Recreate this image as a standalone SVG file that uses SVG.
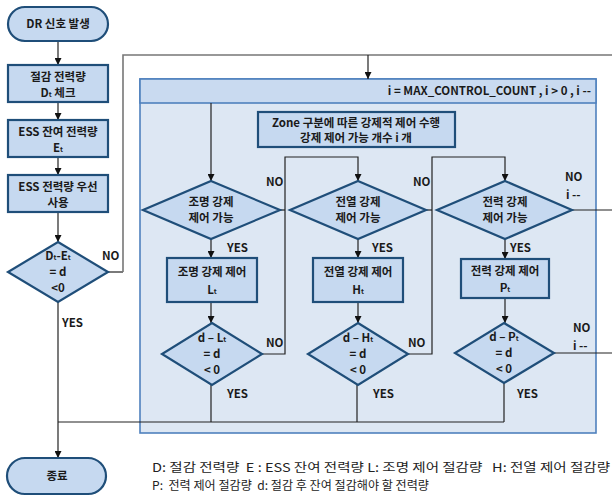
<svg xmlns="http://www.w3.org/2000/svg" width="612" height="497" viewBox="0 0 612 497">
<defs>
<marker id="ah" viewBox="0 0 10 10" refX="10" refY="5" markerWidth="7" markerHeight="7" markerUnits="userSpaceOnUse" orient="auto">
<path d="M0,0 L10,5 L0,10 z" fill="#111"/>
</marker>
<style>
.n{fill:#c6d9f0;stroke:#1f4e79;stroke-width:2.2}
.t{font-family:"Noto Sans CJK KR","Noto Sans",sans-serif;font-weight:bold;font-size:11.5px;fill:#1a1a1a;text-anchor:middle}
.l{font-family:"Noto Sans CJK KR","Noto Sans",sans-serif;font-weight:bold;font-size:11.5px;fill:#1a1a1a}
.c{fill:none;stroke:#222;stroke-width:1.2}
.g{fill:none;stroke:#777;stroke-width:1.6}
.s{font-size:7px}
.lg{font-family:"Noto Sans CJK KR","Noto Sans",sans-serif;font-size:12px;fill:#222;white-space:pre}
</style>
</defs>
<rect width="612" height="497" fill="#ffffff"/>

<g id="panel">
<rect x="140" y="79" width="456" height="354" fill="#dde7f3" stroke="#4f81bd" stroke-width="1.6"/>
<rect x="140" y="79" width="456" height="24" fill="#c9daf0" stroke="#4f81bd" stroke-width="1.6"/>
<text class="l" x="591" y="95" text-anchor="end" font-size="9.5">i = MAX_CONTROL_COUNT , i &gt; 0 , i --</text>
</g>

<g id="connectors">
<path class="c" d="M58,41 V65" marker-end="url(#ah)"/>
<path class="c" d="M58,102 V120" marker-end="url(#ah)"/>
<path class="c" d="M58,157 V175" marker-end="url(#ah)"/>
<path class="c" d="M58,212 V242" marker-end="url(#ah)"/>
<path class="c" d="M108,272 H123"/>
<path class="g" d="M123,272 V55 H612"/>
<path class="c" d="M368,55 V79" marker-end="url(#ah)"/>
<path class="c" d="M58,302 V458" marker-end="url(#ah)"/>
<path class="c" d="M58,422 H504"/>
<path class="c" d="M211,103 V181" marker-end="url(#ah)"/>
<path class="c" d="M211,239 V258" marker-end="url(#ah)"/>
<path class="c" d="M211,302 V323" marker-end="url(#ah)"/>
<path class="c" d="M211,385 V422"/>
<path class="c" d="M280,210 H285"/>
<path class="c" d="M262,354 H285 V157 H358 V181" marker-end="url(#ah)"/>
<path class="c" d="M358,239 V258" marker-end="url(#ah)"/>
<path class="c" d="M358,302 V323" marker-end="url(#ah)"/>
<path class="c" d="M357,385 V422"/>
<path class="c" d="M426,210 H432"/>
<path class="c" d="M408,354 H432 V157 H505 V181" marker-end="url(#ah)"/>
<path class="c" d="M505,239 V259" marker-end="url(#ah)"/>
<path class="c" d="M505,298 V323" marker-end="url(#ah)"/>
<path class="c" d="M504,383 V422"/>
<path class="c" d="M572,210 H612"/>
<path class="c" d="M554,353 H612"/>
</g>

<g id="start">
<rect class="n" x="8" y="7" width="100" height="34" rx="17"/>
<text class="t" x="58" y="28">DR 신호 발생</text>
</g>
<g id="check_D">
<rect class="n" x="8" y="65" width="100" height="37"/>
<text class="t" x="58" y="81">절감 전력량</text>
<text class="t" x="58" y="97">D<tspan class="s">t</tspan> 체크</text>
</g>
<g id="ess_E">
<rect class="n" x="8" y="120" width="100" height="37"/>
<text class="t" x="58" y="136">ESS 잔여 전력량</text>
<text class="t" x="58" y="152">E<tspan class="s">t</tspan></text>
</g>
<g id="ess_use">
<rect class="n" x="8" y="175" width="100" height="37"/>
<text class="t" x="58" y="191">ESS 전력량 우선</text>
<text class="t" x="58" y="207">사용</text>
</g>
<g id="dec_DE">
<polygon class="n" points="58,242 108,272 58,302 8,272"/>
<text class="t" x="58" y="260" font-size="10.5">D<tspan class="s">t</tspan>-E<tspan class="s">t</tspan></text>
<text class="t" x="58" y="276" font-size="10.5">= d</text>
<text class="t" x="58" y="292" font-size="10.5">&lt;0</text>
</g>
<text class="l" x="102" y="260">NO</text>
<text class="l" x="62" y="327">YES</text>

<g id="zone">
<rect class="n" x="258" y="112" width="197" height="35" stroke-width="1.8"/>
<text class="t" x="356" y="127">Zone 구분에 따른 강제적 제어 수행</text>
<text class="t" x="356" y="142">강제 제어 가능 개수 i 개</text>
</g>

<g id="dec_L">
<polygon class="n" points="211,181 280,210 211,239 143,210"/>
<text class="t" x="211" y="206">조명 강제</text>
<text class="t" x="211" y="222">제어 가능</text>
</g>
<g id="ctl_L">
<rect class="n" x="167" y="258" width="90" height="44"/>
<text class="t" x="212" y="276">조명 강제 제어</text>
<text class="t" x="212" y="294">L<tspan class="s">t</tspan></text>
</g>
<g id="dec_dL">
<polygon class="n" points="212,323 262,354 212,385 162,354"/>
<text class="t" x="212" y="342" font-size="10.5">d – L<tspan class="s">t</tspan></text>
<text class="t" x="212" y="358" font-size="10.5">= d</text>
<text class="t" x="212" y="374" font-size="10.5">&lt; 0</text>
</g>

<g id="dec_H">
<polygon class="n" points="358,181 426,210 358,239 290,210"/>
<text class="t" x="358" y="206">전열 강제</text>
<text class="t" x="358" y="222">제어 가능</text>
</g>
<g id="ctl_H">
<rect class="n" x="313" y="258" width="90" height="44"/>
<text class="t" x="358" y="276">전열 강제 제어</text>
<text class="t" x="358" y="294">H<tspan class="s">t</tspan></text>
</g>
<g id="dec_dH">
<polygon class="n" points="358,323 408,354 358,385 308,354"/>
<text class="t" x="358" y="342" font-size="10.5">d – H<tspan class="s">t</tspan></text>
<text class="t" x="358" y="358" font-size="10.5">= d</text>
<text class="t" x="358" y="374" font-size="10.5">&lt; 0</text>
</g>

<g id="dec_P">
<polygon class="n" points="505,181 572,210 505,239 437,210"/>
<text class="t" x="505" y="206">전력 강제</text>
<text class="t" x="505" y="222">제어 가능</text>
</g>
<g id="ctl_P">
<rect class="n" x="461" y="259" width="88" height="39"/>
<text class="t" x="505" y="275">전력 강제 제어</text>
<text class="t" x="505" y="292">P<tspan class="s">t</tspan></text>
</g>
<g id="dec_dP">
<polygon class="n" points="504,323 554,353 504,383 455,353"/>
<text class="t" x="504" y="341" font-size="10.5">d – P<tspan class="s">t</tspan></text>
<text class="t" x="504" y="357" font-size="10.5">= d</text>
<text class="t" x="504" y="373" font-size="10.5">&lt; 0</text>
</g>

<g id="labels">
<text class="l" x="266" y="186">NO</text>
<text class="l" x="266" y="347">NO</text>
<text class="l" x="227" y="252">YES</text>
<text class="l" x="227" y="398">YES</text>
<text class="l" x="413" y="186">NO</text>
<text class="l" x="408" y="347">NO</text>
<text class="l" x="372" y="252">YES</text>
<text class="l" x="373" y="398">YES</text>
<text class="l" x="565" y="181">NO</text>
<text class="l" x="566" y="199">i --</text>
<text class="l" x="510" y="252">YES</text>
<text class="l" x="573" y="332">NO</text>
<text class="l" x="573" y="350">i --</text>
<text class="l" x="517" y="398">YES</text>
</g>

<g id="end">
<rect class="n" x="7" y="458" width="99" height="36" rx="18"/>
<text class="t" x="57" y="480" font-size="10.5">종료</text>
</g>

<g id="legend">
<text class="lg" x="152" y="472" textLength="458" lengthAdjust="spacingAndGlyphs">D: 절감 전력량  E : ESS 잔여 전력량 L: 조명 제어 절감량   H: 전열 제어 절감량</text>
<text class="lg" x="152" y="490" textLength="277" lengthAdjust="spacingAndGlyphs">P:  전력 제어 절감량  d: 절감 후 잔여 절감해야 할 전력량</text>
</g>
</svg>
